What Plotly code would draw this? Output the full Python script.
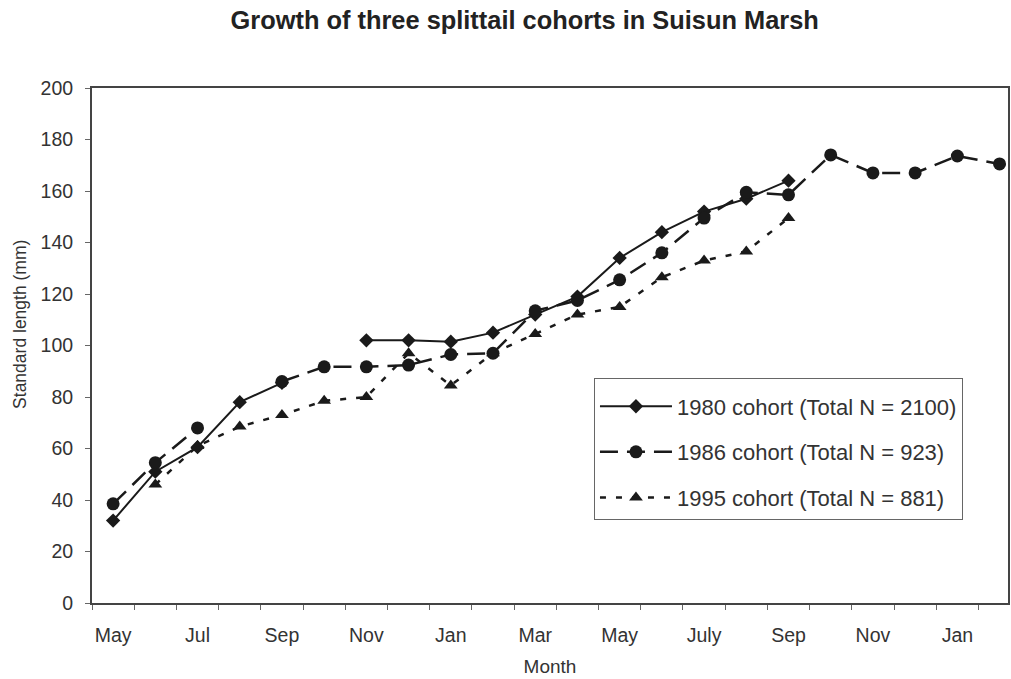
import plotly.graph_objects as go

# Months on the x axis (May of year 1 to Feb of year 3)
months = ["May", "Jun", "Jul", "Aug", "Sep", "Oct", "Nov", "Dec", "Jan", "Feb", "Mar",
          "Apr", "May", "Jun", "Jul", "Aug", "Sep", "Oct", "Nov", "Dec", "Jan", "Feb"]
tick_labels = ["May", "Jul", "Sep", "Nov", "Jan", "Mar", "May", "July", "Sep", "Nov", "Jan"]
tick_index = [0, 2, 4, 6, 8, 10, 12, 14, 16, 18, 20]

cohort_1980 = [32, 51, 60.5, 78, 85.5, None, 102, 102, 101.5, 105, 112, 119,
               134, 144, 152, 157, 164, None, None, None, None, None]
cohort_1986 = [38.5, 54.5, 68, None, 86, 91.7, 91.7, 92.4, 96.5, 97, 113.5, 117.5,
               125.5, 136, 149.5, 159.5, 158.5, 174, 167, 167, 173.6, 170.5]
cohort_1995 = [None, 46, 61, 68.5, 73, 78.5, 80, 97, 84.5, 97, 104.5, 112,
               115, 126.5, 133, 136.5, 149.5, None, None, None, None, None]

names = ["1980 cohort (Total N = 2100)", "1986 cohort (Total N = 923)", "1995 cohort (Total N = 881)"]

x = list(range(len(months)))
ink = "#1a1a1a"
font_family = "Arial, 'Liberation Sans', sans-serif"

fig = go.Figure()
fig.add_trace(go.Scatter(x=x, y=cohort_1980, name=names[0], mode="lines+markers",
                         line=dict(color=ink, width=2, dash="solid"),
                         marker=dict(symbol="diamond", size=11, color=ink),
                         connectgaps=False, legendgroup="a"))
fig.add_trace(go.Scatter(x=x, y=cohort_1986, name=names[1], mode="lines+markers",
                         line=dict(color=ink, width=2.5, dash="18px,9px"),
                         marker=dict(symbol="circle", size=13, color=ink),
                         connectgaps=False, legendgroup="b"))
fig.add_trace(go.Scatter(x=x, y=cohort_1995, name=names[2], mode="lines+markers",
                         line=dict(color=ink, width=2.5, dash="6px,10px"),
                         marker=dict(symbol="triangle-up", size=12, color=ink),
                         connectgaps=False, legendgroup="c"))

fig.update_layout(
    width=1011, height=679,
    paper_bgcolor="white", plot_bgcolor="white",
    margin=dict(l=92, r=3, t=88, b=76, autoexpand=False),
    font=dict(family=font_family, color="#333333", size=19.5),
    title=dict(text="<b>Growth of three splittail cohorts in Suisun Marsh</b>",
               x=0.519, xanchor="center", y=0.97, yanchor="middle",
               font=dict(size=25.4, color="#222222")),
    showlegend=True,
    legend=dict(x=0.548, y=0.437, xanchor="left", yanchor="top",
                bgcolor="white", bordercolor="#666666", borderwidth=1,
                font=dict(size=22, color="#333333"), itemwidth=72,
                title=dict(text=" ", font=dict(size=5)),
                tracegroupgap=14, traceorder="grouped"),
    annotations=[dict(text="Standard length (mm)", textangle=-90, showarrow=False,
                      xref="paper", yref="paper", x=0, y=0.54, xanchor="center",
                      yanchor="middle", xshift=-72, font=dict(size=17.5, color="#333333"))],
)
fig.update_xaxes(range=[-0.5, 21.2], tickmode="array", tickvals=tick_index,
                 ticktext=tick_labels, ticks="", showgrid=False, zeroline=False,
                 showline=True, linecolor="#444444", linewidth=2, mirror=True,
                 ticklabelstandoff=14,
                 minor=dict(tickmode="linear", tick0=0.5, dtick=1, ticks="outside",
                            ticklen=5, tickcolor="#666666", showgrid=False),
                 title=dict(text="Month", font=dict(size=19), standoff=14))
fig.update_yaxes(range=[0, 200], tickmode="linear", tick0=0, dtick=20,
                 ticks="outside", ticklen=5, tickcolor="#666666", showgrid=False,
                 zeroline=False, showline=True, linecolor="#444444", linewidth=2,
                 ticklabelstandoff=8, mirror=True)

fig.write_html("out.html", config={"displayModeBar": False},
               post_script="document.body.style.margin='0';")
